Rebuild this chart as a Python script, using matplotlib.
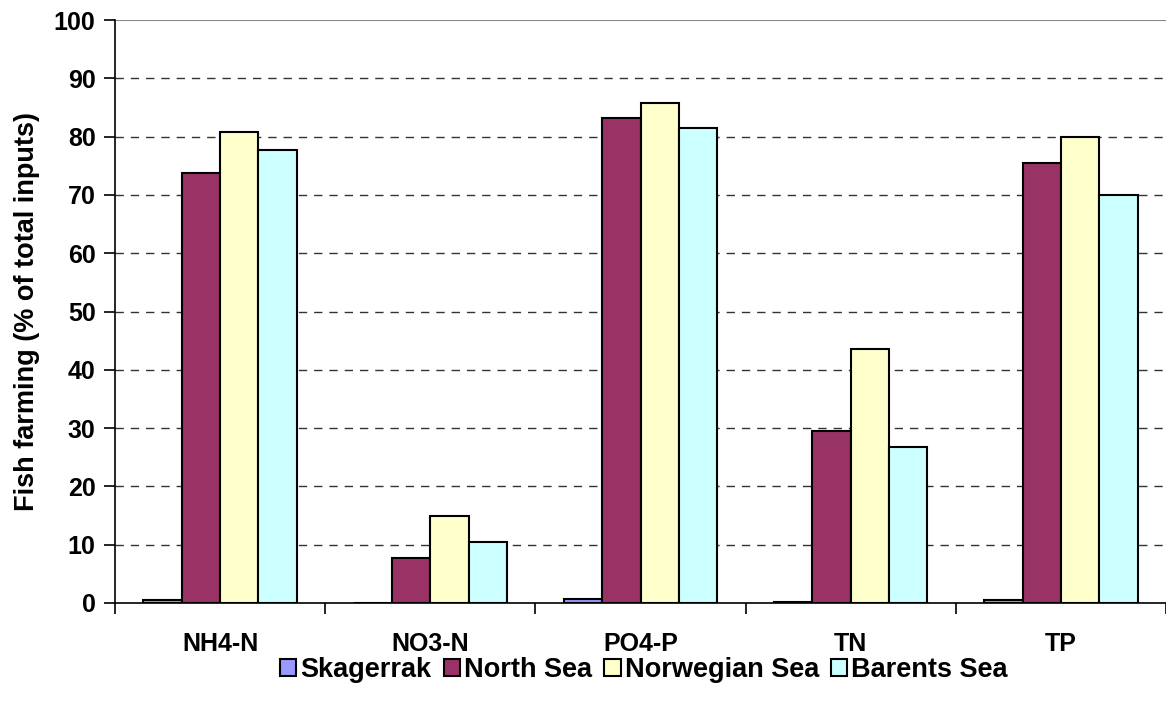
import matplotlib
matplotlib.use("Agg")
import matplotlib.pyplot as plt
import numpy as np

plt.rcParams['font.family'] = ['Liberation Sans', 'DejaVu Sans']
plt.rcParams['font.weight'] = 'bold'

categories = ["NH4-N", "NO3-N", "PO4-P", "TN", "TP"]
series_names = ["Skagerrak", "North Sea", "Norwegian Sea", "Barents Sea"]
skagerrak = [0.5, 0.0, 0.7, 0.1, 0.5]
north_sea = [73.8, 7.7, 83.2, 29.5, 75.4]
norwegian_sea = [80.8, 14.9, 85.8, 43.5, 79.9]
barents_sea = [77.7, 10.4, 81.4, 26.8, 69.9]
y_ticks = [0, 10, 20, 30, 40, 50, 60, 70, 80, 90, 100]

colors = ["#9999FF", "#993366", "#FFFFCC", "#CCFFFF"]
values = [skagerrak, north_sea, norwegian_sea, barents_sea]

fig = plt.figure(figsize=(11.66, 7.13), dpi=100)
ax = fig.add_axes([115/1166, 110/713, (1166-115)/1166, 583/713])

x = np.arange(len(categories))
w = 0.1825
for i, (vals, c, name) in enumerate(zip(values, colors, series_names)):
    ax.bar(x + (i - 1.5) * w, vals, width=w, color=c, edgecolor='black',
           linewidth=1.5, label=name, zorder=3)

ax.set_xlim(-0.5, len(categories) - 0.5)
ax.set_ylim(0, 100)
ax.set_yticks(y_ticks)
ax.set_yticklabels([str(t) for t in y_ticks], fontsize=18, fontweight='bold')
for t in y_ticks[1:-1]:
    ax.axhline(t, color='#333333', linestyle=(0, (6, 5)), linewidth=1.0, zorder=1)
ax.axhline(100, color='#888888', linewidth=1.5, zorder=1)

ax.set_xticks(x)
ax.set_xticklabels(categories, fontsize=18, fontweight='bold')
ax.tick_params(axis='x', length=0, pad=21)
ax.set_xticks(np.arange(len(categories) + 1) - 0.5, minor=True)
ax.tick_params(axis='x', which='minor', length=8, width=1.2, direction='out')
ax.tick_params(axis='y', length=8, width=1.2, direction='out', pad=6)

ax.spines['top'].set_visible(False)
ax.spines['right'].set_visible(False)
ax.spines['left'].set_linewidth(1.2)
ax.spines['bottom'].set_linewidth(1.2)

ax.set_ylabel("Fish farming (% of total inputs)", fontsize=19.5, fontweight='bold', labelpad=10)

leg = fig.legend(loc='center', bbox_to_anchor=(644/1166, 1 - 670/713), ncol=4,
                 frameon=False, prop={'size': 19.5, 'weight': 'bold'},
                 handlelength=0.6, handleheight=0.6, handletextpad=0.15,
                 columnspacing=0.45, borderpad=0)

fig.savefig("out.png", dpi=100)
